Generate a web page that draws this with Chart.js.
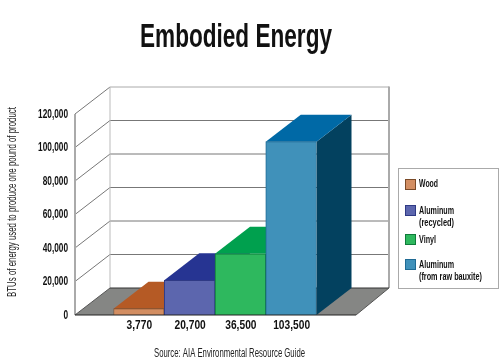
<!DOCTYPE html>
<html><head><meta charset="utf-8">
<style>html,body{margin:0;padding:0;background:#fff}canvas{display:block}</style>
<script src="https://cdn.jsdelivr.net/npm/chart.js@4"></script>
</head><body><canvas id="c" width="500" height="360"></canvas>
<script>
const categories = ['Wood', 'Aluminum (recycled)', 'Vinyl', 'Aluminum (from raw bauxite)'];
const values = [3770, 20700, 36500, 103500];
const valueLabels = ['3,770', '20,700', '36,500', '103,500'];
const yTicks = [0, 20000, 40000, 60000, 80000, 100000, 120000];
const frontColors = ['#D38E62', '#5C66AE', '#2EB85E', '#4091BA'];
const topColors = ['#B55A25', '#263492', '#00A04E', '#0069A6'];
const sideColors = ['#7A3D18', '#1A2468', '#007238', '#03415F'];
const borderColors = ['#7A4A28', '#2F3A85', '#0F7A3A', '#1F6A94'];

const FONT = '"Liberation Sans"';
const DX = 35, DY = -27, LEFT = 75, RIGHT = 356;

function text(ctx, s, x, y, font, w, color, rot) {
  ctx.save();
  ctx.font = font; ctx.fillStyle = color || '#111';
  ctx.textAlign = 'left'; ctx.textBaseline = 'middle';
  ctx.translate(x, y);
  if (rot) ctx.rotate(rot);
  ctx.scale(w / ctx.measureText(s).width, 1);
  ctx.fillText(s, 0, 0);
  ctx.restore();
}
function squeezed(ctx, s, anchorX, y, font, k, align) {
  ctx.save();
  ctx.font = font; ctx.fillStyle = '#111';
  ctx.textAlign = align; ctx.textBaseline = 'middle';
  ctx.translate(anchorX, y);
  ctx.scale(k, 1);
  ctx.fillText(s, 0, 0);
  ctx.restore();
}
function poly(ctx, pts, fill) {
  ctx.beginPath();
  pts.forEach((p, i) => i ? ctx.lineTo(p[0], p[1]) : ctx.moveTo(p[0], p[1]));
  ctx.closePath(); ctx.fillStyle = fill; ctx.fill();
}
function line(ctx, a, b, color, w) {
  ctx.beginPath(); ctx.moveTo(a[0], a[1]); ctx.lineTo(b[0], b[1]);
  ctx.strokeStyle = color; ctx.lineWidth = w; ctx.stroke();
}
const box3d = {
  id: 'box3d',
  beforeDatasetsDraw(chart) {
    const ctx = chart.ctx, ys = chart.scales.y;
    const y0 = ys.getPixelForValue(0), yT = ys.getPixelForValue(120000);
    const backL = LEFT + DX, backR = RIGHT + DX - 2;
    poly(ctx, [[LEFT, y0], [backL, y0 + DY], [backR, y0 + DY], [RIGHT, y0]], '#858684');
    yTicks.forEach(v => {
      const y = ys.getPixelForValue(v);
      if (v > 0) {
        line(ctx, [LEFT, y], [backL, y + DY], '#777', 1);
        line(ctx, [backL, y + DY], [backR, y + DY], v === 120000 ? '#aaa' : '#777', 1);
      }
    });
    line(ctx, [backL, yT + DY], [backL, y0 + DY], '#bbb', 1);
    line(ctx, [backR, yT + DY - 0.5], [backR, y0 + DY], '#aaa', 2);
    line(ctx, [LEFT, yT], [LEFT, y0], '#aaa', 2);
    line(ctx, [backL, y0 + DY], [backR, y0 + DY], '#333', 1);
    line(ctx, [LEFT, y0], [backL, y0 + DY], '#555', 1);
    line(ctx, [backR, y0 + DY], [RIGHT, y0], '#555', 1);
    chart.getDatasetMeta(0).data.forEach((b, i) => {
      const l = b.x - b.width / 2, r = b.x + b.width / 2, t = b.y, bs = b.base;
      poly(ctx, [[r, t], [r + DX, t + DY], [r + DX, bs + DY], [r, bs]], sideColors[i]);
      poly(ctx, [[l, t], [l + DX, t + DY], [r + DX, t + DY], [r, t]], topColors[i]);
    });
  },
  afterDatasetsDraw(chart) {
    const ctx = chart.ctx, y0 = chart.scales.y.getPixelForValue(0);
    line(ctx, [LEFT, y0], [RIGHT, y0], '#222', 1);
  },
  afterDraw(chart) {
    const ctx = chart.ctx, ys = chart.scales.y, xs = chart.scales.x;
    const tickFont = 'bold 12px ' + FONT;
    yTicks.forEach(v => squeezed(ctx, v.toLocaleString('en-US'), 68, ys.getPixelForValue(v) + 0.5, tickFont, 0.69, 'right'));
    valueLabels.forEach((s, i) => squeezed(ctx, s, xs.getPixelForTick(i) + 0.5, 326, tickFont, 0.85, 'center'));
    text(ctx, 'Embodied Energy', 140, 38, 'bold 34px ' + FONT, 192, '#111');
    text(ctx, 'BTUs of energy used to produce one pound of product', 13, 297, '12px ' + FONT, 190, '#222', -Math.PI / 2);
    text(ctx, 'Source: AIA Environmental Resource Guide', 154, 354, '12px ' + FONT, 151, '#222');
    ctx.strokeStyle = '#aaa'; ctx.lineWidth = 1; ctx.strokeRect(398.5, 168.5, 100, 120);
    const sw = [179, 205, 234, 259];
    sw.forEach((y, i) => {
      ctx.fillStyle = frontColors[i]; ctx.fillRect(405, y, 11, 11);
      ctx.strokeStyle = borderColors[i]; ctx.strokeRect(405.5, y + .5, 10, 10);
    });
    const f = 'bold 10px ' + FONT;
    text(ctx, 'Wood', 419, 184, f, 19);
    text(ctx, 'Aluminum', 419, 211, f, 35);
    text(ctx, '(recycled)', 419, 223, f, 35);
    text(ctx, 'Vinyl', 419, 240, f, 17);
    text(ctx, 'Aluminum', 419, 265, f, 35);
    text(ctx, '(from raw bauxite)', 419, 277, f, 63);
  }
};
new Chart(document.getElementById('c'), {
  type: 'bar',
  data: { labels: valueLabels, datasets: [{ label: 'BTUs of energy used to produce one pound of product', data: values,
    backgroundColor: frontColors, borderColor: borderColors, borderWidth: 1, barPercentage: 1, categoryPercentage: 1 }] },
  options: {
    responsive: false, animation: false,
    layout: { padding: { top: 114, right: 183.5, bottom: 45, left: 113.5 } },
    plugins: { legend: { display: false }, tooltip: { enabled: false } },
    scales: {
      x: { display: false },
      y: { display: false, min: 0, max: 120000 }
    }
  },
  plugins: [box3d]
});
</script></body></html>
